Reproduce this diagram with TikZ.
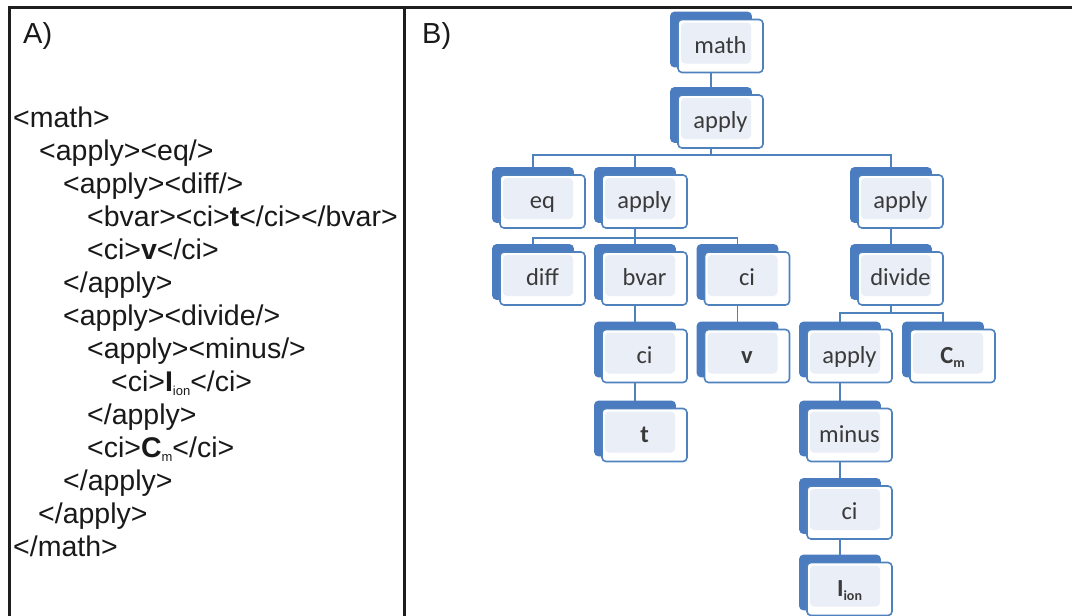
\documentclass[tikz,border=0pt]{standalone}
\usepackage{fontspec}
\setmainfont{Liberation Sans}
\newfontfamily\carlito{Carlito}
\usetikzlibrary{calc}
\definecolor{bblue}{HTML}{4F81BD}
\definecolor{shblue}{HTML}{4A7CBF}
\definecolor{boxfill}{HTML}{E9EEF7}
\definecolor{txtgray}{HTML}{3A3A3A}
\definecolor{framecol}{HTML}{1E1E1E}
\pgfdeclarelayer{bg}\pgfdeclarelayer{shad}
\pgfsetlayers{bg,shad,main}
\tikzset{
  tbox/.style={draw=bblue, line width=1.6pt, fill=white, rounded corners=4pt,
    minimum width=85pt, minimum height=53pt, inner sep=0pt,
    text height=18pt, text depth=4pt,
    font=\carlito\fontsize{24.5}{28}\selectfont, text=txtgray,
    path picture={\fill[boxfill] ([shift={(3pt,-3pt)}]path picture bounding box.north west) rectangle ([shift={(-12pt,9pt)}]path picture bounding box.south east);}},
  conn/.style={draw=bblue, line width=1.8pt},
  code/.style={anchor=base west, inner sep=0pt, font=\fontsize{28.5}{33}\selectfont, text=black!90},
  framel/.style={draw=framecol, line width=3pt},
}
\newcommand\subsm[1]{\raisebox{-4pt}{\fontsize{13}{13}\selectfont #1}}
\newcommand\subbf[1]{\raisebox{-4pt}{\fontsize{14}{14}\selectfont\bfseries #1}}
\newcommand\tnode[4]{%
  \node[tbox] (#1) at (#2,#3) {#4};
  \coordinate (#1c) at ([xshift=-9.5pt]#1.center);
  \begin{pgfonlayer}{shad}
    \fill[shblue, rounded corners=4pt] ([shift={(-7pt,7pt)}]#1.north west) rectangle ([shift={(-12pt,6pt)}]#1.south east);
  \end{pgfonlayer}}
\begin{document}
\begin{tikzpicture}[x=1pt,y=-1pt]
\useasboundingbox (0,0) rectangle (1072,616);
% frame
\draw[framel] (8,7) -- (1072,7);
\draw[framel] (9.5,5.5) -- (9.5,616);
\draw[framel] (404,7) -- (404,616);
% labels
\node[code, font=\fontsize{29}{33}\selectfont] (labA) at (23,43) {A)};
\node[code, font=\fontsize{29}{33}\selectfont] (labB) at (422,43) {B)};
% code listing
\node[code] (l1) at (13,127) {<math>};
\node[code] (l2) at (39,160) {<apply><eq/>};
\node[code] (l3) at (63,193) {<apply><diff/>};
\node[code] (l4) at (87,226) {<bvar><ci>\textbf{t}</ci></bvar>};
\node[code] (l5) at (87,259) {<ci>\textbf{v}</ci>};
\node[code] (l6) at (63,292) {</apply>};
\node[code] (l7) at (63,325) {<apply><divide/>};
\node[code] (l8) at (87,358) {<apply><minus/>};
\node[code] (l9) at (111,391) {<ci>\textbf{I}\subsm{ion}</ci>};
\node[code] (l10) at (87,424) {</apply>};
\node[code] (l11) at (87,457) {<ci>\textbf{C}\subsm{m}</ci>};
\node[code] (l12) at (63,490) {</apply>};
\node[code] (l13) at (38,523) {</apply>};
\node[code] (l14) at (13,556) {</math>};
% tree
\tnode{math}{720.5}{46}{math}
\tnode{applyA}{720.5}{121.5}{apply}
\tnode{eq}{542.5}{201.5}{eq}
\tnode{applyB}{644.5}{201.5}{apply}
\tnode{applyC}{900.5}{201.5}{apply}
\tnode{diff}{542.5}{278.5}{diff}
\tnode{bvar}{644.5}{278.5}{bvar}
\tnode{ciA}{747}{278.5}{ci}
\tnode{divide}{900.5}{278.5}{divide}
\tnode{ciB}{644.5}{356}{ci}
\tnode{vv}{747}{356}{\textbf{v}}
\tnode{applyD}{849.5}{356}{apply}
\tnode{Cm}{952.5}{356}{\textbf{C}\subbf{m}}
\tnode{tt}{644.5}{435}{\textbf{t}}
\tnode{minus}{849.5}{435}{minus}
\tnode{ciC}{849.5}{512.5}{ci}
\tnode{Iion}{849.5}{589}{\textbf{I}\subbf{ion}}
% connectors
\begin{pgfonlayer}{bg}
\coordinate (bus1) at (0,155);
\coordinate (bus2) at (0,238);
\coordinate (bus3) at (0,313);
\draw[conn] (mathc) -- (applyAc);
\draw[conn] (applyAc) -- (applyAc |- bus1) -| (eqc);
\draw[conn] (applyAc |- bus1) -| (applyBc);
\draw[conn] (applyAc |- bus1) -| (applyCc);
\draw[conn] (applyBc) -- (applyBc |- bus2) -| (diffc);
\draw[conn] (applyBc |- bus2) -| (bvarc);
\draw[conn] (applyBc |- bus2) -| (ciAc);
\draw[conn] (bvarc) -- (ciBc) -- (ttc);
\draw[conn] (ciAc) -- (vvc);
\draw[conn] (applyCc) -- (dividec);
\draw[conn] (dividec) -- (dividec |- bus3) -| (applyDc);
\draw[conn] (dividec |- bus3) -| (Cmc);
\draw[conn] (applyDc) -- (minusc) -- (ciCc) -- (Iionc);
\end{pgfonlayer}
\end{tikzpicture}
\end{document}
